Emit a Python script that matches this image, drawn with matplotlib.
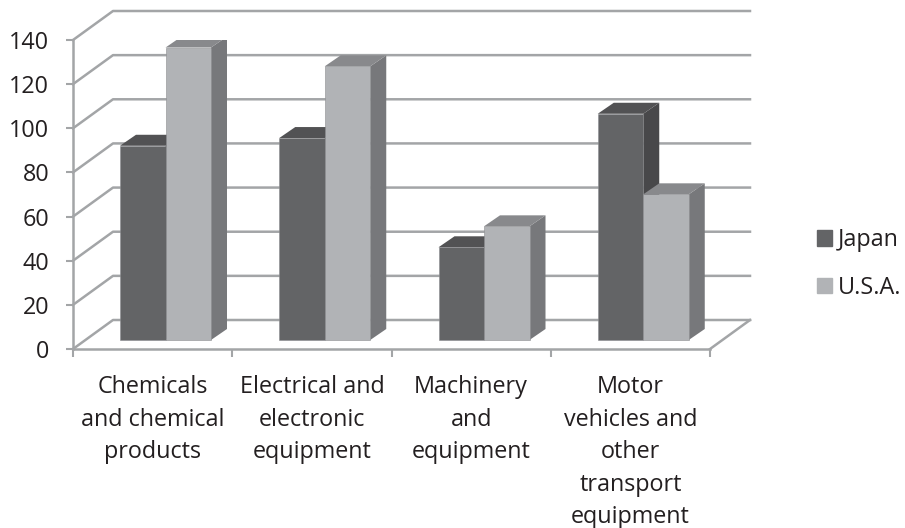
import matplotlib
matplotlib.use("Agg")
import matplotlib.pyplot as plt
from matplotlib.patches import Patch, Polygon

plt.rcParams['font.family'] = ['Open Sans', 'DejaVu Sans']

categories = ["Chemicals\nand chemical\nproducts",
              "Electrical and\nelectronic\nequipment",
              "Machinery\nand\nequipment",
              "Motor\nvehicles and\nother\ntransport\nequipment"]
japan = [88, 91.5, 42, 102.5]
usa = [132.5, 124, 51.5, 66]
y_ticks = [0, 20, 40, 60, 80, 100, 120, 140]

W, H = 905, 528
TEXT = '#231f20'
GRID = '#a3a5a7'
FS = 16.8

# the fake 3d look, all in data units (1 category = 159.25px, 1 value = 2.207px)
WALL_DX, WALL_DY = 40 / 159.25, 29 / 2.207
BAR_DX, BAR_DY = 16 / 159.25, 11 / 2.207
BAR_LIFT = 9 / 2.207
BAR_W = 45.5 / 159.25
BAR_START = 47 / 159.25

fig = plt.figure(figsize=(W / 100, H / 100), dpi=100)
ax = fig.add_axes([73 / W, 1 - 349 / H, 637 / W, 309 / H])
ax.set(xlim=(0, 4), ylim=(0, 140))


def draw_bars(xs, values, front, side, top):
    ax.bar(xs, values, BAR_W, bottom=BAR_LIFT, align='edge', color=front,
           edgecolor='#8c8d90', linewidth=0.4, zorder=4)
    for x, v in zip(xs, values):
        y1 = v + BAR_LIFT
        x2 = x + BAR_W
        ax.add_patch(Polygon([(x2, BAR_LIFT), (x2 + BAR_DX, BAR_LIFT + BAR_DY),
                              (x2 + BAR_DX, y1 + BAR_DY), (x2, y1)],
                             facecolor=side, edgecolor='none', zorder=3))
        ax.add_patch(Polygon([(x, y1), (x + BAR_DX, y1 + BAR_DY),
                              (x2 + BAR_DX, y1 + BAR_DY), (x2, y1)],
                             facecolor=top, edgecolor='none', zorder=3))


# walls
for v in y_ticks:
    ax.plot([0, WALL_DX, 4 + WALL_DX], [v, v + WALL_DY, v + WALL_DY],
            color=GRID, lw=1.8, clip_on=False, zorder=1)
ax.plot([4, 4 + WALL_DX], [0, WALL_DY], color=GRID, lw=1.8, clip_on=False, zorder=1)

xs = list(range(len(categories)))
draw_bars([x + BAR_START for x in xs], japan, '#636466', '#48484a', '#525254')
draw_bars([x + BAR_START + BAR_W for x in xs], usa, '#b1b3b6', '#77787b', '#88898c')

for s in ('top', 'right'):
    ax.spines[s].set_visible(False)
for s in ('left', 'bottom'):
    ax.spines[s].set_color(GRID)
    ax.spines[s].set_linewidth(1.8)
    ax.spines[s].set_zorder(2)

ax.set_yticks(y_ticks)
ax.tick_params(axis='y', length=5, width=1.5, color=GRID, pad=12,
               labelsize=FS, labelcolor=TEXT)
ax.set_xticks(range(5))
ax.set_xticklabels([])
ax.tick_params(axis='x', which='major', length=6, width=1.5, color=GRID)
ax.set_xticks([x + 0.5 for x in xs], minor=True)
ax.set_xticklabels(categories, minor=True, fontsize=FS, color=TEXT, linespacing=1.47)
ax.tick_params(axis='x', which='minor', length=0, pad=19)

handles = [Patch(color='#636466', label='Japan'), Patch(color='#b1b3b6', label='U.S.A.')]
fig.legend(handles=handles, loc='center left', bbox_to_anchor=(817 / W, 1 - 264 / H),
           frameon=False, fontsize=FS, labelcolor=TEXT, handlelength=0.64,
           handleheight=0.64, handletextpad=0.25, labelspacing=1.0,
           borderpad=0, borderaxespad=0)

fig.savefig('out.png', dpi=100)
